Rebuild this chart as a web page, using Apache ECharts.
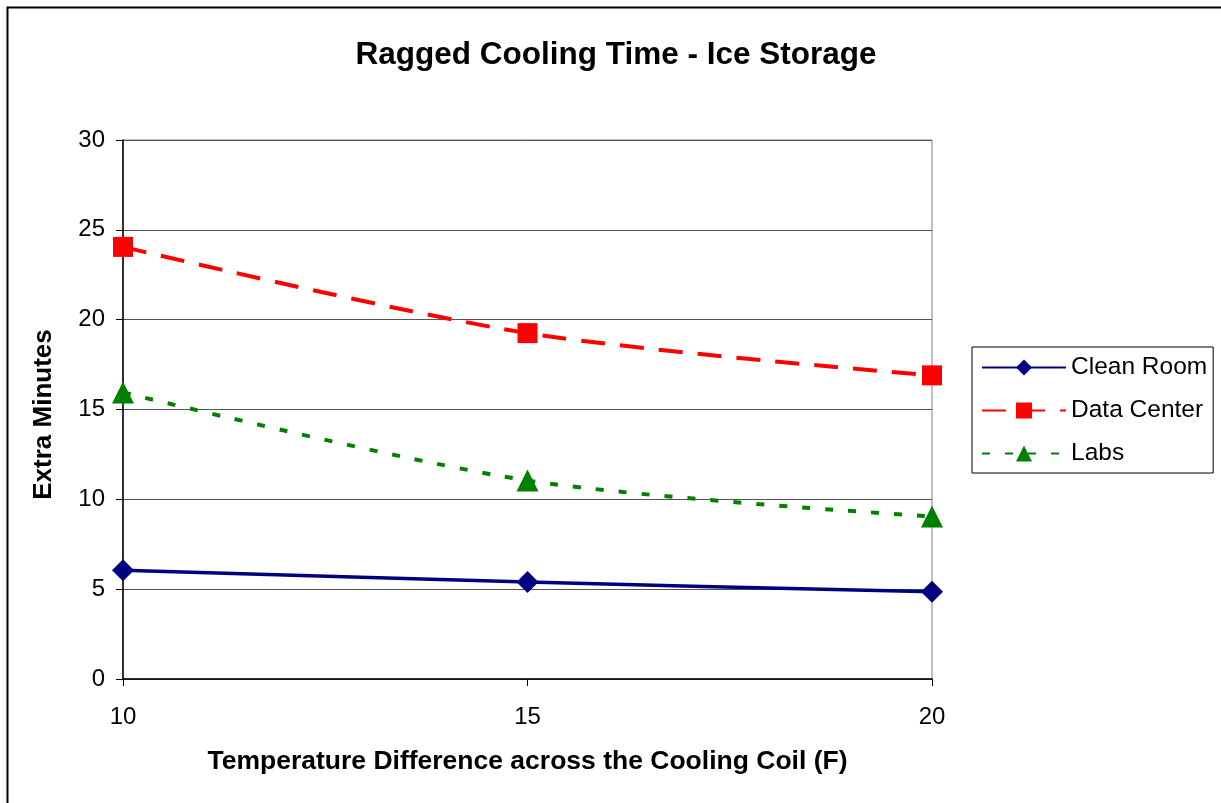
<!DOCTYPE html>
<html>
<head>
<meta charset="utf-8">
<script src="https://cdn.jsdelivr.net/npm/echarts@6/dist/echarts.min.js"></script>
<style>
  html, body { margin: 0; padding: 0; background: #fff; }
  #chart { width: 1221px; height: 803px; }
</style>
</head>
<body>
<div id="chart"></div>
<script>
// Temperature difference across the coil (F)
const categories = ['10', '15', '20'];
// Extra minutes of cooling time per building type
const cleanRoom = [6.05, 5.4, 4.85];
const dataCenter = [24.05, 19.25, 16.9];
const labs = [15.95, 11.05, 9.05];
const yTicks = [0, 5, 10, 15, 20, 25, 30];

const font = 'Liberation Sans, Arial, sans-serif';
const chart = echarts.init(document.getElementById('chart'));

chart.setOption({
  backgroundColor: '#ffffff',
  animation: false,
  graphic: [{
    type: 'rect',
    shape: { x: 7.5, y: 7.5, width: 1240, height: 820 },
    style: { fill: 'none', stroke: '#000', lineWidth: 2 },
    silent: true
  }],
  title: {
    text: 'Ragged Cooling Time - Ice Storage',
    left: 611, top: 34, textAlign: 'center',
    textStyle: { fontFamily: font, fontWeight: 'bold', fontSize: 31.5, color: '#000' }
  },
  legend: {
    orient: 'vertical',
    left: 972, top: 347,
    width: 246,
    padding: [8, 6, 7, 9],
    itemGap: 18,
    itemWidth: 84, itemHeight: 20,
    borderColor: '#000', borderWidth: 1,
    textStyle: { fontFamily: font, fontSize: 24.5, color: '#000', padding: [0, 0, 0, 0] },
    data: ['Clean Room', 'Data Center', 'Labs']
  },
  grid: {
    left: 123, right: 289, top: 140, bottom: 124,
    show: true, borderColor: '#808080', borderWidth: 1
  },
  xAxis: {
    type: 'category',
    data: categories,
    boundaryGap: false,
    name: 'Temperature Difference across the Cooling Coil (F)',
    nameLocation: 'middle', nameGap: 69,
    nameTextStyle: { fontFamily: font, fontWeight: 'bold', fontSize: 26.5, color: '#000' },
    axisLine: { lineStyle: { color: '#000', width: 1.5 } },
    axisTick: { show: true, length: 7, lineStyle: { color: '#000' } },
    axisLabel: { fontFamily: font, fontSize: 24, color: '#000', margin: 26 },
    splitLine: { show: false }
  },
  yAxis: {
    type: 'value',
    min: yTicks[0], max: yTicks[yTicks.length - 1], interval: 5,
    name: 'Extra Minutes',
    nameLocation: 'middle', nameGap: 66,
    nameTextStyle: { fontFamily: font, fontWeight: 'bold', fontSize: 26, color: '#000', padding: [0, 10, 0, 0] },
    axisLine: { show: true, lineStyle: { color: '#000', width: 1.5 } },
    axisTick: { show: true, length: 7, lineStyle: { color: '#000' } },
    axisLabel: { fontFamily: font, fontSize: 24, color: '#000', margin: 18 },
    splitLine: { show: true, lineStyle: { color: '#555', width: 1.2 } }
  },
  series: [
    {
      name: 'Clean Room', type: 'line', data: cleanRoom, smooth: 0.3,
      symbol: 'diamond', symbolSize: 22,
      itemStyle: { color: '#000080' },
      lineStyle: { color: '#000080', width: 3.5 },
      z: 3
    },
    {
      name: 'Data Center', type: 'line', data: dataCenter, smooth: 0.3,
      symbol: 'rect', symbolSize: 20,
      itemStyle: { color: '#ff0000' },
      lineStyle: { color: '#ff0000', width: 4, type: [24, 15] },
      z: 3
    },
    {
      name: 'Labs', type: 'line', data: labs, smooth: 0.3,
      symbol: 'triangle', symbolSize: 22,
      itemStyle: { color: '#008000' },
      lineStyle: { color: '#008000', width: 4, type: [8, 15] },
      z: 3
    }
  ]
});
</script>
</body>
</html>
